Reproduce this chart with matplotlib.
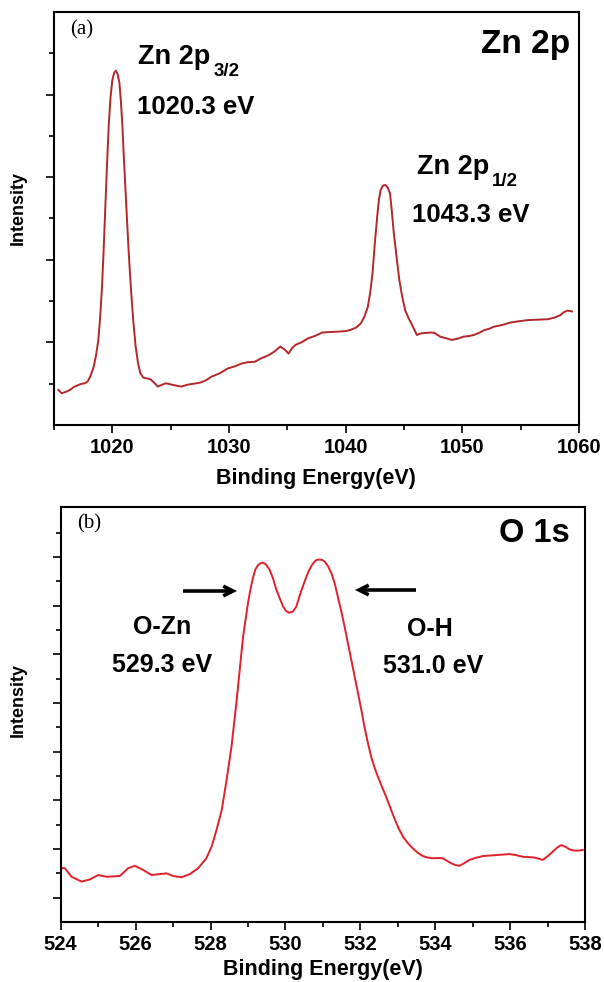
import matplotlib
matplotlib.use("Agg")
import matplotlib.pyplot as plt
from matplotlib.ticker import MultipleLocator, FixedLocator

# ---------------- data ----------------
zn_energy = [1015.37, 1015.65, 1016.0, 1016.37, 1016.7, 1017.1, 1017.4, 1017.66, 1017.9,
             1018.1, 1018.25, 1018.4, 1018.6, 1018.8, 1018.95, 1019.1, 1019.25, 1019.4,
             1019.55, 1019.7, 1019.85, 1020.0, 1020.15, 1020.3, 1020.45, 1020.6, 1020.72,
             1020.85, 1021.0, 1021.2, 1021.4, 1021.6, 1021.8, 1022.0, 1022.2, 1022.4,
             1022.65, 1022.9, 1023.1, 1023.3, 1023.6, 1023.9, 1024.3, 1024.6, 1025.2,
             1025.9, 1026.5, 1027.0, 1027.6, 1028.0, 1028.5, 1029.2, 1029.9, 1030.5,
             1031.1, 1031.6, 1032.2, 1032.8, 1033.4, 1033.9, 1034.4, 1034.8, 1035.1,
             1035.4, 1035.7, 1036.2, 1036.8, 1037.4, 1038.0, 1038.6, 1039.3, 1039.9,
             1040.4, 1040.9, 1041.3, 1041.6, 1041.9, 1042.1, 1042.3, 1042.5, 1042.7,
             1042.85, 1043.0, 1043.2, 1043.4, 1043.6, 1043.8, 1043.95, 1044.1, 1044.35,
             1044.6, 1044.85, 1045.1, 1045.4, 1045.7, 1046.1, 1046.5, 1046.9, 1047.3,
             1047.6, 1048.1, 1048.6, 1049.1, 1049.6, 1050.1, 1050.5, 1051.0, 1051.5,
             1051.9, 1052.3, 1052.7, 1053.4, 1054.1, 1054.8, 1055.6, 1056.4, 1057.3,
             1057.9, 1058.4, 1058.7, 1059.0, 1059.4]
zn_intensity = [0.85, 0.77, 0.80, 0.85, 0.92, 0.97, 1.00, 1.01, 1.06,
                1.17, 1.28, 1.41, 1.68, 2.06, 2.58, 3.27, 4.20, 5.29,
                6.35, 7.30, 7.95, 8.35, 8.52, 8.58, 8.50, 8.30, 7.90,
                7.30, 6.40, 5.29, 4.20, 3.27, 2.50, 1.90, 1.50, 1.25,
                1.15, 1.13, 1.12, 1.10, 1.02, 0.93, 0.98, 1.01, 0.97,
                0.93, 0.98, 1.00, 1.03, 1.08, 1.17, 1.25, 1.37, 1.42,
                1.49, 1.52, 1.53, 1.62, 1.69, 1.78, 1.90, 1.82, 1.73,
                1.86, 1.94, 2.00, 2.10, 2.16, 2.24, 2.25, 2.26, 2.27,
                2.30, 2.36, 2.46, 2.62, 2.86, 3.20, 3.67, 4.40, 5.04,
                5.45, 5.69, 5.80, 5.81, 5.75, 5.61, 5.20, 4.72, 4.10,
                3.51, 3.10, 2.78, 2.58, 2.42, 2.18, 2.22, 2.23, 2.24,
                2.23, 2.14, 2.10, 2.06, 2.09, 2.14, 2.15, 2.18, 2.24,
                2.30, 2.33, 2.38, 2.42, 2.48, 2.51, 2.54, 2.55, 2.56,
                2.60, 2.66, 2.73, 2.77, 2.75]

o_energy = [524.0, 524.11, 524.29, 524.56, 524.78, 525.0, 525.23, 525.58, 525.8, 525.98,
            526.2, 526.43, 526.65, 526.83, 527.0, 527.23, 527.45, 527.67, 527.89, 528.03,
            528.16, 528.3, 528.43, 528.56, 528.69, 528.78, 528.87, 529.0, 529.07, 529.14,
            529.2, 529.27, 529.33, 529.4, 529.48, 529.58, 529.67, 529.76, 529.85, 529.94,
            530.02, 530.1, 530.2, 530.29, 530.42, 530.56, 530.63, 530.7, 530.76, 530.83,
            530.91, 530.98, 531.05, 531.14, 531.23, 531.32, 531.4, 531.49, 531.58, 531.67,
            531.76, 531.85, 531.94, 532.03, 532.11, 532.2, 532.29, 532.38, 532.47, 532.58,
            532.69, 532.8, 532.91, 533.02, 533.14, 533.27, 533.4, 533.53, 533.67, 533.8,
            533.94, 534.07, 534.2, 534.31, 534.43, 534.54, 534.65, 534.78, 534.91, 535.09,
            535.27, 535.45, 535.63, 535.8, 535.98, 536.16, 536.34, 536.47, 536.6, 536.73,
            536.87, 537.0, 537.14, 537.25, 537.36, 537.47, 537.58, 537.69, 537.8, 537.94]
o_intensity = [2.21, 2.21, 1.86, 1.66, 1.75, 1.93, 1.86, 1.89, 2.21, 2.31,
               2.14, 1.93, 1.97, 2.00, 1.89, 1.84, 1.97, 2.21, 2.62, 3.10,
               3.78, 4.60, 5.84, 7.20, 8.99, 10.36, 11.73, 13.10, 13.70, 14.19,
               14.50, 14.67, 14.74, 14.77, 14.70, 14.47, 14.12, 13.65, 13.30, 12.96,
               12.78, 12.71, 12.76, 12.96, 13.60, 14.19, 14.45, 14.65, 14.78, 14.88,
               14.90, 14.88, 14.81, 14.62, 14.33, 13.90, 13.37, 12.78, 12.14, 11.45,
               10.77, 10.08, 9.40, 8.70, 8.03, 7.38, 6.79, 6.35, 5.97, 5.55,
               5.15, 4.70, 4.26, 3.86, 3.51, 3.24, 3.03, 2.85, 2.71, 2.65,
               2.62, 2.63, 2.62, 2.52, 2.41, 2.34, 2.31, 2.42, 2.55, 2.64,
               2.71, 2.73, 2.75, 2.77, 2.79, 2.75, 2.68, 2.67, 2.66, 2.62,
               2.55, 2.70, 2.89, 3.05, 3.16, 3.10, 2.99, 2.94, 2.93, 2.96]

zn_xticks = [1020, 1030, 1040, 1050, 1060]
o_xticks = [524, 526, 528, 530, 532, 534, 536, 538]

# ---------------- figure ----------------
W, H = 604, 982
fig = plt.figure(figsize=(W / 100, H / 100), dpi=100)
plt.rcParams['font.family'] = ['Liberation Sans', 'DejaVu Sans']


def fx(px):
    return px / W


def fy(py):
    return 1 - py / H


def style_axes(ax):
    for s in ax.spines.values():
        s.set_linewidth(1.5)
        s.set_color('black')
    ax.tick_params(axis='both', which='major', direction='out', length=6, width=1.2,
                   labelsize=14.5, top=False, right=False)
    ax.tick_params(axis='both', which='minor', direction='out', length=3.5, width=1.2,
                   top=False, right=False)
    ax.tick_params(axis='y', which='both', labelleft=False)
    for lab in ax.get_xticklabels():
        lab.set_fontweight('bold')


# top panel
ax1 = fig.add_axes([fx(54), fy(425), fx(579) - fx(54), fy(12) - fy(425)])
ax1.plot(zn_energy, zn_intensity, color='#b3262b', lw=1.4)
ax1.set_xlim(1015, 1060)
ax1.set_ylim(0, 10)
ax1.xaxis.set_major_locator(FixedLocator(zn_xticks))
ax1.xaxis.set_minor_locator(MultipleLocator(5))
ax1.yaxis.set_major_locator(FixedLocator([2, 4, 6, 8]))
ax1.yaxis.set_minor_locator(FixedLocator([1, 3, 5, 7, 9]))
ax1.set_xticklabels([str(t) for t in zn_xticks])
style_axes(ax1)

# bottom panel
ax2 = fig.add_axes([fx(60.7), fy(922), fx(585) - fx(60.7), fy(506.7) - fy(922)])
ax2.plot(o_energy, o_intensity, color='#e0202a', lw=1.4)
ax2.set_xlim(524, 538)
ax2.set_ylim(0, 17.07)
ax2.xaxis.set_major_locator(FixedLocator(o_xticks))
ax2.xaxis.set_minor_locator(MultipleLocator(1))
ax2.yaxis.set_major_locator(FixedLocator([1, 3, 5, 7, 9, 11, 13, 15]))
ax2.yaxis.set_minor_locator(FixedLocator([2, 4, 6, 8, 10, 12, 14, 16]))
ax2.set_xticklabels([str(t) for t in o_xticks])
style_axes(ax2)

# axis labels
fig.text(fx(316), fy(478), 'Binding Energy(eV)', ha='center', va='center',
         fontsize=15.5, fontweight='bold')
fig.text(fx(323), fy(969), 'Binding Energy(eV)', ha='center', va='center',
         fontsize=15.5, fontweight='bold')
fig.text(fx(18), fy(208), 'Intensity', ha='center', va='center', rotation=90,
         fontsize=13, fontweight='bold')
fig.text(fx(18), fy(700), 'Intensity', ha='center', va='center', rotation=90,
         fontsize=13, fontweight='bold')

# panel letters and titles
fig.text(fx(82), fy(30), '(a)', ha='center', va='center', fontsize=15,
         family=['Liberation Serif', 'DejaVu Serif'])
fig.text(fx(89), fy(524), '(b)', ha='center', va='center', fontsize=15,
         family=['Liberation Serif', 'DejaVu Serif'])
fig.text(fx(570), fy(45), 'Zn 2p', ha='right', va='center', fontsize=24, fontweight='bold')
fig.text(fx(570), fy(534), 'O 1s', ha='right', va='center', fontsize=23.5, fontweight='bold')

# peak annotations, top
fig.text(fx(138), fy(57), 'Zn 2p', ha='left', va='center', fontsize=19.5, fontweight='bold')
fig.text(fx(214), fy(72), '3/2', ha='left', va='center', fontsize=13.5, fontweight='bold')
fig.text(fx(137), fy(107), '1020.3 eV', ha='left', va='center', fontsize=18.5,
         fontweight='bold')
fig.text(fx(417), fy(167), 'Zn 2p', ha='left', va='center', fontsize=19.5, fontweight='bold')
fig.text(fx(492), fy(181), '1/2', ha='left', va='center', fontsize=13.5, fontweight='bold')
fig.text(fx(412), fy(215), '1043.3 eV', ha='left', va='center', fontsize=18.5,
         fontweight='bold')

# annotations, bottom
fig.text(fx(162), fy(627), 'O-Zn', ha='center', va='center', fontsize=18, fontweight='bold')
fig.text(fx(162), fy(665), '529.3 eV', ha='center', va='center', fontsize=18, fontweight='bold')
fig.text(fx(430), fy(629), 'O-H', ha='center', va='center', fontsize=18, fontweight='bold')
fig.text(fx(433), fy(666), '531.0 eV', ha='center', va='center', fontsize=18, fontweight='bold')

arrow_kw = dict(arrowstyle='->,head_length=0.7,head_width=0.35', lw=2.6, color='black',
                shrinkA=0, shrinkB=0, capstyle='butt', joinstyle='miter')
ax2.annotate('', xy=(fx(237), fy(591)), xycoords='figure fraction',
             xytext=(fx(183), fy(591)), textcoords='figure fraction', arrowprops=arrow_kw)
ax2.annotate('', xy=(fx(355), fy(590)), xycoords='figure fraction',
             xytext=(fx(416), fy(590)), textcoords='figure fraction', arrowprops=arrow_kw)

fig.savefig('out.png', dpi=100)
